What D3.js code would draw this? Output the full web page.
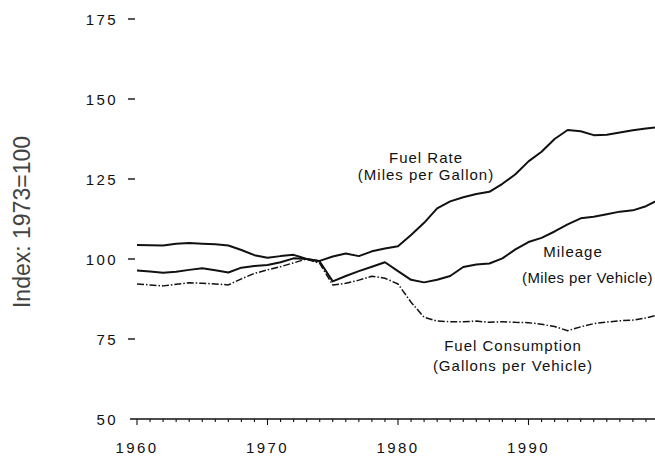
<!DOCTYPE html>
<html>
<head>
<meta charset="utf-8">
<script src="https://cdn.jsdelivr.net/npm/d3@7"></script>
<style>
  html, body { margin: 0; padding: 0; background: #fff; }
  svg { display: block; }
  text { font-family: "Liberation Sans", Arial, Helvetica, sans-serif; fill: #111; }
</style>
</head>
<body>
<svg id="chart" width="655" height="458"></svg>
<script>
// Vehicle fuel indices, 1973 = 100
const years = d3.range(1960, 2001);

const fuelRate = [
  104.4, 104.3, 104.2, 104.8, 105.0, 104.8, 104.6, 104.2, 102.8, 101.2,
  100.4, 100.9, 101.3, 100.0, 99.4, 100.8, 101.7, 100.9, 102.4, 103.3,
  104.0, 107.5, 111.3, 115.8, 118.0, 119.3, 120.3, 121.0, 123.5, 126.5,
  130.5, 133.5, 137.5, 140.3, 139.9, 138.7, 138.8, 139.5, 140.2, 140.8,
  141.2
];

const mileage = [
  96.4, 96.1, 95.7, 96.0, 96.6, 97.1, 96.5, 95.8, 97.3, 97.8,
  98.1, 99.0, 100.2, 100.0, 99.2, 93.0, 94.7, 96.2, 97.6, 99.0,
  96.2, 93.5, 92.7, 93.5, 94.7, 97.5, 98.3, 98.6, 100.2, 103.0,
  105.3, 106.6, 108.6, 110.8, 112.7, 113.2, 114.0, 114.8, 115.2, 116.5,
  118.6
];

const fuelConsumption = [
  92.2, 91.9, 91.6, 92.1, 92.6, 92.4, 92.2, 91.9, 93.8, 95.5,
  96.6, 97.6, 98.8, 100.0, 98.6, 91.9, 92.4, 93.4, 94.6, 94.0,
  92.2, 86.5, 81.8, 80.6, 80.4, 80.4, 80.6, 80.2, 80.4, 80.2,
  80.1, 79.6, 78.9, 77.6, 78.8, 79.8, 80.3, 80.7, 80.9, 81.6,
  82.6
];

const yTicks = [50, 75, 100, 125, 150, 175];
const xTickLabels = [1960, 1970, 1980, 1990];

const svg = d3.select("#chart");

const x = d3.scaleLinear().domain([1960, 2000]).range([137, 659]);
const y = d3.scaleLinear().domain([50, 175]).range([419, 19]);

// Y axis: labels with short dash marks, no axis line
const yAxis = svg.append("g").attr("class", "y-axis");
yAxis.selectAll("text").data(yTicks).join("text")
  .attr("x", 118)
  .attr("y", d => y(d) + 5.5)
  .attr("text-anchor", "end")
  .attr("font-size", 15)
  .attr("letter-spacing", 2.4)
  .text(d => d);
yAxis.selectAll("line").data(yTicks.filter(d => d > 50)).join("line")
  .attr("x1", 128).attr("x2", 135)
  .attr("y1", d => y(d)).attr("y2", d => y(d))
  .attr("stroke", "#111").attr("stroke-width", 1.4);

// X axis: baseline with yearly ticks, longer at decades
const xAxis = svg.append("g").attr("class", "x-axis");
xAxis.append("line")
  .attr("x1", 130).attr("x2", 655)
  .attr("y1", y(50)).attr("y2", y(50))
  .attr("stroke", "#111").attr("stroke-width", 1.6);
xAxis.selectAll("line.tick").data(d3.range(1960, 2000)).join("line")
  .attr("class", "tick")
  .attr("x1", d => x(d)).attr("x2", d => x(d))
  .attr("y1", y(50))
  .attr("y2", d => y(50) + (d % 10 === 0 ? 6 : 3))
  .attr("stroke", "#111").attr("stroke-width", 1.1);
xAxis.selectAll("text").data(xTickLabels).join("text")
  .attr("x", d => x(d) + 0)
  .attr("y", 453)
  .attr("text-anchor", "middle")
  .attr("font-size", 15)
  .attr("letter-spacing", 2.4)
  .text(d => d);

// Y axis title
svg.append("text")
  .attr("transform", "translate(30,222) rotate(-90)")
  .attr("text-anchor", "middle")
  .attr("font-size", 23)
  .style("fill", "#444")
  .text("Index: 1973=100");

// Series lines
const line = d3.line()
  .x((d, i) => x(years[i]))
  .y(d => y(d));

const series = [
  { values: fuelRate, dash: null, width: 2 },
  { values: mileage, dash: null, width: 2 },
  { values: fuelConsumption, dash: "7,2,1.5,2", width: 1.5 }
];

svg.append("g").selectAll("path").data(series).join("path")
  .attr("d", d => line(d.values))
  .attr("fill", "none")
  .attr("stroke", "#111")
  .attr("stroke-width", d => d.width)
  .attr("stroke-linejoin", "round")
  .attr("stroke-dasharray", d => d.dash);

// Series annotations
const notes = [
  { x: 426, y: 163, text: "Fuel Rate", anchor: "middle" },
  { x: 426, y: 180, text: "(Miles per Gallon)", anchor: "middle" },
  { x: 573, y: 257, text: "Mileage", anchor: "middle" },
  { x: 653, y: 283, text: "(Miles per Vehicle)", anchor: "end" },
  { x: 513, y: 351, text: "Fuel Consumption", anchor: "middle" },
  { x: 513, y: 371, text: "(Gallons per Vehicle)", anchor: "middle" }
];
svg.append("g").selectAll("text").data(notes).join("text")
  .attr("x", d => d.x)
  .attr("y", d => d.y)
  .attr("text-anchor", d => d.anchor)
  .attr("font-size", 15)
  .attr("letter-spacing", d => d.anchor === "end" ? 0.4 : 1)
  .text(d => d.text);
</script>
</body>
</html>
